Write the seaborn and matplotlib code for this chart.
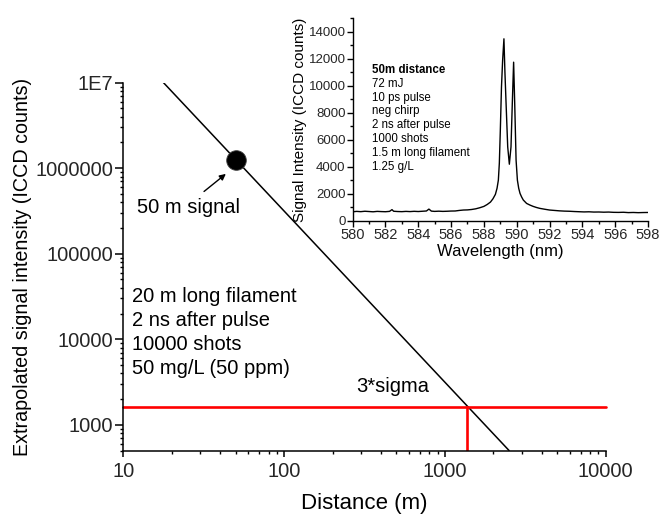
#Extrapolated LIBS signal vs distance, with spectrum inset
import seaborn as sns
import pandas as pd
import matplotlib.pyplot as plt
from matplotlib.ticker import MultipleLocator, LogLocator, NullFormatter

sns.set_theme(style="ticks")
plt.rcParams['font.family'] = ['Liberation Sans', 'DejaVu Sans']

# main chart: 1/r^2 extrapolation
fit_distance = [17.2, 2506]
fit_intensity = [1.07e7, 500]
signal_distance = [50]
signal_intensity = [1.25e6]
sigma_level = 1600
sigma_distance = 1380
x_limits = [10, 10000]
y_ticks = [1000, 10000, 100000, 1000000, 10000000]
y_tick_labels = ["1000", "10000", "100000", "1000000", "1E7"]
x_ticks = [10, 100, 1000, 10000]
x_tick_labels = ["10", "100", "1000", "10000"]

# inset spectrum
wavelength = [580.0, 580.25, 580.5, 580.75, 581.0, 581.25, 581.5, 581.75, 582.0, 582.25,
              582.4, 582.5, 582.75, 583.0, 583.25, 583.5, 583.75, 584.0, 584.25, 584.5,
              584.65, 584.8, 585.0, 585.25, 585.5, 585.75, 586.0, 586.25, 586.5, 586.75,
              587.0, 587.25, 587.5, 587.75, 588.0, 588.2, 588.4, 588.55, 588.7, 588.8,
              588.88, 588.94, 589.0, 589.07, 589.14, 589.22, 589.28, 589.35, 589.45, 589.55,
              589.65, 589.73, 589.81, 589.88, 589.96, 590.04, 590.12, 590.2, 590.3, 590.4,
              590.6, 590.8, 591.0, 591.2, 591.4, 591.7, 592.0, 592.3, 592.6, 592.9,
              593.2, 593.5, 593.8, 594.1, 594.4, 594.7, 595.0, 595.3, 595.6, 595.9,
              596.2, 596.5, 596.8, 597.1, 597.4, 597.7, 598.0]
counts = [660, 690, 670, 700, 680, 660, 690, 675, 665, 690,
          820, 700, 680, 670, 690, 675, 695, 680, 700, 720,
          860, 710, 690, 705, 690, 700, 715, 720, 760, 790,
          800, 830, 880, 960, 1060, 1200, 1380, 1620, 1950, 2400,
          3000, 4260, 6690, 9890, 11860, 13460, 11000, 8690, 5460, 4180,
          5460, 8690, 11730, 8500, 4480, 3000, 2400, 2020, 1750, 1530,
          1280, 1160, 1060, 980, 915, 850, 790, 760, 730, 710,
          700, 680, 665, 650, 660, 640, 645, 630, 640, 620,
          615, 625, 600, 610, 595, 605, 610]
spec_x_ticks = list(range(580, 599, 2))
spec_y_ticks = list(range(0, 14001, 2000))

main_text = "20 m long filament\n2 ns after pulse\n10000 shots\n50 mg/L (50 ppm)"
inset_lines = ["72 mJ", "10 ps pulse", "neg chirp", "2 ns after pulse",
               "1000 shots", "1.5 m long filament", "1.25 g/L"]

fig = plt.figure(figsize=(6.64, 5.14), dpi=100)
ax = fig.add_axes([0.1857, 0.1235, 0.7265, 0.7156])

fit = pd.DataFrame({"d": fit_distance, "I": fit_intensity})
sns.lineplot(data=fit, x="d", y="I", color="black", lw=1.1, ax=ax)
sns.lineplot(x=x_limits, y=[sigma_level, sigma_level], color="red", lw=1.9,
             estimator=None, ax=ax, clip_on=False)
sns.lineplot(x=[sigma_distance, sigma_distance], y=[500, sigma_level], color="red", lw=1.9,
             estimator=None, sort=False, ax=ax)
sns.scatterplot(x=signal_distance, y=signal_intensity, color="black", s=200,
                edgecolor="#444444", linewidth=0.6, ax=ax, zorder=5)

ax.set_xscale("log")
ax.set_yscale("log")
ax.set_xlim(10, 10000)
ax.set_ylim(500, 1e7)
ax.set_xticks(x_ticks, x_tick_labels)
ax.set_yticks(y_ticks, y_tick_labels)
ax.xaxis.set_minor_locator(LogLocator(subs=range(2, 10)))
ax.yaxis.set_minor_locator(LogLocator(subs=range(2, 10)))
ax.xaxis.set_minor_formatter(NullFormatter())
ax.yaxis.set_minor_formatter(NullFormatter())
ax.tick_params(axis="both", which="major", labelsize=14.5, direction="out", width=1.1, color="black")
ax.tick_params(axis="y", which="major", length=6, pad=1.5)
ax.tick_params(axis="x", which="major", length=4, pad=4)
ax.tick_params(axis="both", which="minor", length=2.5, width=1.0, color="black")
sns.despine(ax=ax)
for s in ["left", "bottom"]:
    ax.spines[s].set_color("black")
    ax.spines[s].set_linewidth(1.1)
ax.set_xlabel("Distance (m)", fontsize=16, labelpad=9, color="black")
ax.set_ylabel("Extrapolated signal intensity (ICCD counts)", fontsize=14.2, labelpad=2, color="black")
ax.grid(False)

ax.annotate("", xy=(44.8, 9.0e5), xytext=(30.8, 5.1e5),
            arrowprops=dict(arrowstyle="-|>", color="black", lw=1.0, mutation_scale=9))
ax.text(12.2, 2.98e5, "50 m signal", fontsize=14.5, va="baseline", color="black")
ax.text(11.4, 40500, main_text, fontsize=14.5, va="top", linespacing=1.33, color="black")
ax.text(280, 2390, "3*sigma", fontsize=14.5, va="baseline", color="black")

# inset
axin = fig.add_axes([0.531, 0.5706, 0.445, 0.3944])
axin.patch.set_alpha(0)
spec = pd.DataFrame({"wl": wavelength, "c": counts})
sns.lineplot(data=spec, x="wl", y="c", color="black", lw=1.0, ax=axin)
axin.set_xlim(580, 598)
axin.set_ylim(0, 15000)
axin.set_xticks(spec_x_ticks)
axin.set_yticks(spec_y_ticks)
axin.xaxis.set_minor_locator(MultipleLocator(1))
axin.yaxis.set_minor_locator(MultipleLocator(1000))
axin.tick_params(axis="x", which="major", labelsize=10.5, length=4, width=1, pad=1, color="black")
axin.tick_params(axis="y", which="major", labelsize=9.5, length=4, width=1, pad=1, color="black")
axin.tick_params(axis="both", which="minor", length=2.5, width=1, color="black")
sns.despine(ax=axin)
for s in ["left", "bottom"]:
    axin.spines[s].set_color("black")
    axin.spines[s].set_linewidth(1.0)
axin.set_xlabel("Wavelength (nm)", fontsize=12, labelpad=2, color="black")
axin.set_ylabel("Signal Intensity (ICCD counts)", fontsize=11, labelpad=1, color="black")
axin.grid(False)

axin.text(0.066, 0.775, "50m distance", transform=axin.transAxes, fontsize=8.3,
          fontweight="bold", va="top", color="black")
axin.text(0.066, 0.705, "\n".join(inset_lines), transform=axin.transAxes, fontsize=8.3,
          va="top", linespacing=1.2, color="black")

fig.savefig("out.png", dpi=100)
